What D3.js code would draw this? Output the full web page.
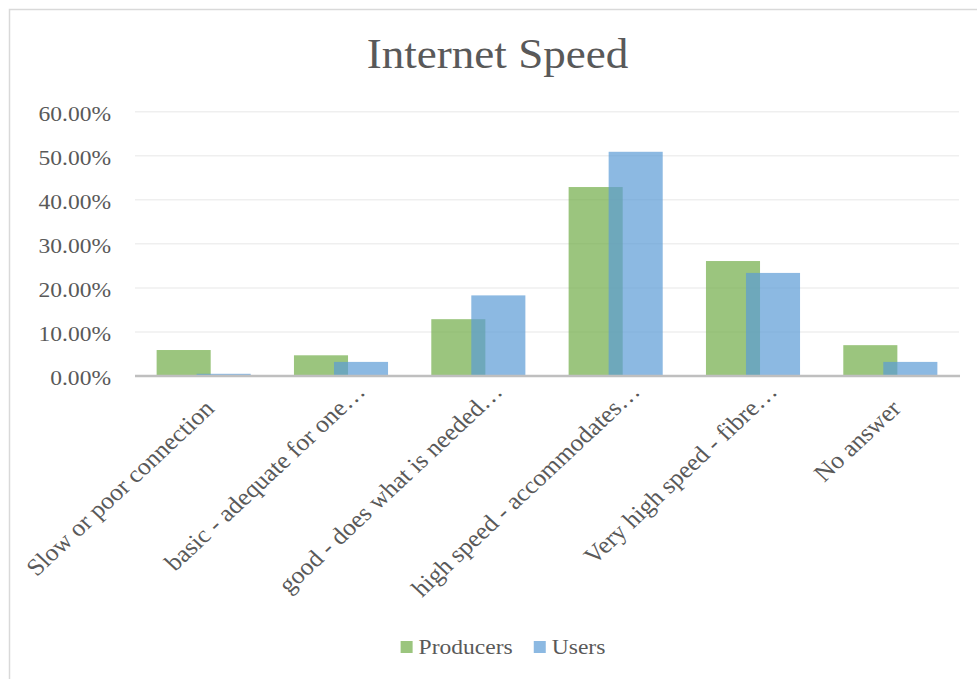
<!DOCTYPE html>
<html>
<head>
<meta charset="utf-8">
<script src="https://cdn.jsdelivr.net/npm/d3@7"></script>
<style>
  html, body { margin: 0; padding: 0; background: #fff; }
  svg { display: block; }
  text { font-family: "Liberation Serif", "Times New Roman", serif; fill: #595959; }
</style>
</head>
<body>
<svg id="chart" width="977" height="679"></svg>
<script>
// Survey answers: share of respondents by internet speed
const categories = [
  "Slow or poor connection",
  "basic - adequate for one…",
  "good - does what is needed…",
  "high speed - accommodates…",
  "Very high speed - fibre…",
  "No answer"
];
const seriesNames = ["Producers", "Users"];
const producers = [0.059, 0.047, 0.129, 0.429, 0.261, 0.070];
const users     = [0.005, 0.032, 0.183, 0.509, 0.234, 0.032];
const yTicks = [0, 0.1, 0.2, 0.3, 0.4, 0.5, 0.6];
const chartTitle = "Internet Speed";

const seriesValues = [producers, users];
const colors = ["#70AD47", "#5B9BD5"];

const W = 977, H = 679;
const plot = { left: 135, right: 959, top: 111.7, bottom: 376 };
const stretch = 1.07;          // horizontal text stretch
const overlap = 0.26, gapWidth = 0.80;

const svg = d3.select("#chart");

// outer chart frame
svg.append("rect")
  .attr("x", 9.5).attr("y", 9.5)
  .attr("width", W + 20).attr("height", H + 20)
  .attr("fill", "#fff").attr("stroke", "#d9d9d9").attr("stroke-width", 1.5);

// title
svg.append("text")
  .attr("transform", `translate(497.5,67.7) scale(${stretch * 0.98},1)`)
  .attr("text-anchor", "middle")
  .style("font-size", "43px")
  .text(chartTitle);

const x = d3.scaleBand().domain(categories).range([plot.left, plot.right]).paddingInner(0).paddingOuter(0);
const y = d3.scaleLinear().domain([0, 0.6]).range([plot.bottom, plot.top]);

// gridlines
svg.append("g").selectAll("line")
  .data(yTicks.filter(t => t > 0))
  .join("line")
  .attr("x1", plot.left).attr("x2", plot.right)
  .attr("y1", d => y(d)).attr("y2", d => y(d))
  .attr("stroke", "#efefef").attr("stroke-width", 1.5);

// y-axis labels
const fmt = d3.format(".2%");
svg.append("g").selectAll("text")
  .data(yTicks)
  .join("text")
  .attr("transform", d => `translate(111,${y(d)}) scale(${stretch},1)`)
  .attr("text-anchor", "end")
  .attr("dy", "0.42em")
  .style("font-size", "22px")
  .text(d => fmt(d));

// bars: overlapping clustered columns
const band = x.bandwidth();
const barW = band / (2 - overlap + gapWidth);
const step = barW * (1 - overlap);
const groupW = barW + step;

seriesValues.forEach((vals, si) => {
  svg.append("g")
    .selectAll("rect")
    .data(vals.map((v, i) => ({ v, c: categories[i] })))
    .join("rect")
    .attr("x", d => x(d.c) + (band - groupW) / 2 + si * step)
    .attr("width", barW)
    .attr("y", d => y(d.v))
    .attr("height", d => y(0) - y(d.v))
    .attr("fill", colors[si])
    .attr("fill-opacity", 0.7);
});

// category axis line
svg.append("line")
  .attr("x1", plot.left).attr("x2", plot.right + 1)
  .attr("y1", y(0)).attr("y2", y(0))
  .attr("stroke", "#bfbfbf").attr("stroke-width", 2.5);

// rotated category labels
svg.append("g").selectAll("text")
  .data(categories)
  .join("text")
  .attr("transform", d => `translate(${x(d) + band / 2 + 12},410) scale(${stretch},1) rotate(-45)`)
  .attr("text-anchor", "end")
  .attr("dx", d => d.endsWith("…") ? 21 : 0)
  .attr("dy", d => d.endsWith("…") ? -3 : 0)
  .style("font-size", "24px")
  .text(d => d);

// legend
const legend = svg.append("g");
const items = legend.selectAll("g").data(seriesNames).join("g");
items.append("rect")
  .attr("width", 12).attr("height", 12)
  .attr("y", 641)
  .attr("fill", (d, i) => colors[i]).attr("fill-opacity", 0.7);
items.append("text")
  .style("font-size", "22px")
  .text(d => d);
const widths = [];
items.each(function () {
  widths.push(d3.select(this).select("text").node().getComputedTextLength() * stretch);
});
const total = widths.reduce((a, w) => a + 12 + 6 + w, 0) + 21 * (widths.length - 1);
let cursor = 503 - total / 2;
items.each(function (d, i) {
  const g = d3.select(this);
  g.select("rect").attr("x", cursor);
  g.select("text").attr("transform", `translate(${cursor + 18},654) scale(${stretch},1)`);
  cursor += 12 + 6 + widths[i] + 21;
});
</script>
</body>
</html>
